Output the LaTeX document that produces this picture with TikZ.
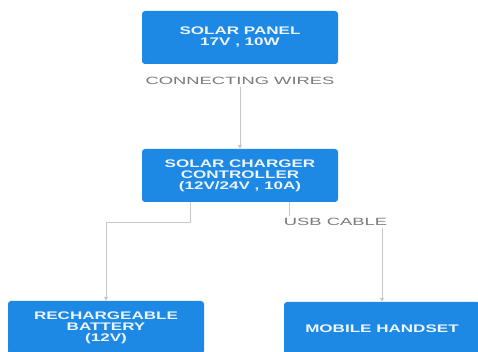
\documentclass[tikz,border=0pt]{standalone}
\usepackage{fontspec}
\usepackage{tikz}
\usetikzlibrary{arrows.meta,positioning}
\newfontfamily\boxfont[FakeStretch=1.55]{Liberation Sans}
\newfontfamily\wirefont[FakeStretch=1.75]{Liberation Sans}
\definecolor{PanelBlue}{HTML}{1E88E5}
\definecolor{WireGray}{HTML}{C8C8C8}
\definecolor{TagGray}{HTML}{7A7A7A}
\tikzset{
  blockbox/.style={fill=PanelBlue, rounded corners=3pt, minimum width=196pt, minimum height=53pt, align=center, text=white!92!PanelBlue, font=\boxfont\bfseries\fontsize{11}{11}\selectfont},
  wire/.style={-{Triangle[length=4pt,width=4pt]}, draw=WireGray, line width=0.7pt},
  wiretag/.style={fill=white, text=TagGray, inner sep=2pt, font=\wirefont\fontsize{10.5}{10.5}\selectfont}
}

\begin{document}
\begin{tikzpicture}[x=1pt,y=1pt]
\clip (0,0) rectangle (478,352);
\fill[white] (0,0) rectangle (478,352);
\node[blockbox] (panel) at (240,314.5) {SOLAR PANEL\\17V , 10W};
\node[blockbox] (ctrl) at (240,176.5) {SOLAR CHARGER\\CONTROLLER\\(12V/24V , 10A)};
\node[blockbox] (batt) at (106,24.5) {RECHARGEABLE\\BATTERY\\(12V)};
\node[blockbox] (phone) at (382,23.5) {MOBILE HANDSET};
\node[wiretag, below=11pt of panel] (wires) {CONNECTING WIRES};
\draw[wire] (wires) -- (ctrl);
\draw[wire] ([xshift=-50pt]ctrl.south) -- ++(0,-20) -| (batt.north);
\draw[wire] ([xshift=49pt]ctrl.south) -- ++(0,-20) -| node[wiretag, pos=0.25] (usb) {USB CABLE} (phone.north);
\end{tikzpicture}
\end{document}
